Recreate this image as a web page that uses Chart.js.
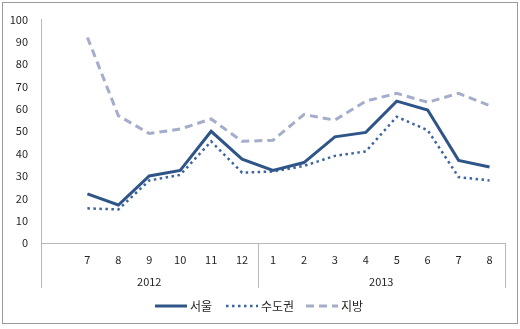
<!DOCTYPE html>
<html>
<head>
<meta charset="utf-8">
<script src="https://cdn.jsdelivr.net/npm/chart.js@4/dist/chart.umd.min.js"></script>
<style>
  html, body { margin: 0; padding: 0; background: #fff; }
  #wrap { position: relative; width: 520px; height: 329px; }
</style>
</head>
<body>
<div id="wrap"><canvas id="c" width="520" height="329"></canvas></div>
<script>
// Month labels; the first slot of 2012 is left blank.
const months = ['', '7', '8', '9', '10', '11', '12', '1', '2', '3', '4', '5', '6', '7', '8'];
// Year groups: label and how many month slots each covers.
const years = ['2012', '2013'];
const yearSpans = [7, 8];

const seoul    = [null, 22, 17, 30, 32.5, 50, 37.5, 32.5, 36, 47.5, 49.5, 63.5, 59.5, 37, 34];
const capital  = [null, 15.5, 15, 28, 30.5, 45.5, 31.5, 32, 34.5, 39, 41, 56.5, 50.5, 29.5, 28];
const regional = [null, 92, 57, 49, 51, 55.5, 45.5, 46, 57.5, 55, 63.5, 67, 63, 67, 61.5];

const seriesNames = ['서울', '수도권', '지방'];

const FONT = '"Noto Sans CJK KR", "Noto Sans", sans-serif';
const TEXT = '#262626';
const AXIS = '#b8b8b8';

// Group labels, separators, legend and frame drawn under the category axis.
const decor = {
  id: 'decor',
  afterDraw(chart) {
    const ctx = chart.ctx;
    const area = chart.chartArea;
    const step = (area.right - area.left) / months.length;
    ctx.save();
    // separators between year groups
    ctx.strokeStyle = AXIS;
    ctx.lineWidth = 1;
    let edge = area.left;
    const edges = [edge];
    yearSpans.forEach(n => { edge += n * step; edges.push(edge); });
    edges.forEach(px => {
      const p = Math.round(px) + 0.5;
      ctx.beginPath();
      ctx.moveTo(p, area.bottom);
      ctx.lineTo(p, area.bottom + 45);
      ctx.stroke();
    });
    // year labels
    ctx.fillStyle = TEXT;
    ctx.font = '11px ' + FONT;
    ctx.textAlign = 'center';
    ctx.textBaseline = 'middle';
    years.forEach((y, i) => {
      ctx.fillText(y, (edges[i] + edges[i + 1]) / 2, area.bottom + 39);
    });
    // legend
    const items = chart.data.datasets;
    const starts = [155, 226, 306];
    ctx.font = '12px ' + FONT;
    ctx.textAlign = 'left';
    items.forEach((ds, i) => {
      const lx = starts[i], ly = 306;
      ctx.strokeStyle = ds.borderColor;
      ctx.lineWidth = ds.borderWidth;
      ctx.setLineDash(ds.borderDash || []);
      ctx.beginPath();
      ctx.moveTo(lx, ly);
      ctx.lineTo(lx + 32, ly);
      ctx.stroke();
      ctx.setLineDash([]);
      ctx.fillStyle = TEXT;
      ctx.fillText(ds.label, lx + 35, ly);
    });
    // outer frame
    ctx.strokeStyle = '#9a9a9a';
    ctx.lineWidth = 1;
    ctx.strokeRect(2.5, 2.5, 515, 321);
    ctx.restore();
  }
};

new Chart(document.getElementById('c'), {
  type: 'line',
  data: {
    labels: months,
    datasets: [
      { label: seriesNames[0], data: seoul, borderColor: '#2f5588', borderWidth: 3,
        pointRadius: 0, tension: 0 },
      { label: seriesNames[1], data: capital, borderColor: '#3b64a0', borderWidth: 2.5,
        borderDash: [2.5, 3.5], pointRadius: 0, tension: 0 },
      { label: seriesNames[2], data: regional, borderColor: '#a4aecb', borderWidth: 3,
        borderDash: [8, 5], pointRadius: 0, tension: 0 }
    ]
  },
  options: {
    responsive: false,
    animation: false,
    layout: { padding: { top: 16, right: 15, left: 0, bottom: 0 } },
    plugins: { legend: { display: false }, tooltip: { enabled: false } },
    scales: {
      x: {
        type: 'category',
        offset: true,
        grid: { display: false, drawTicks: false },
        border: { display: true, color: AXIS, width: 1 },
        ticks: { color: TEXT, font: { family: FONT, size: 11 }, padding: 10, maxRotation: 0, autoSkip: false },
        afterFit(s) { s.height = 86; }
      },
      y: {
        min: 0, max: 100,
        grid: { display: false, drawTicks: false },
        border: { display: true, color: AXIS, width: 1 },
        ticks: { stepSize: 10, color: TEXT, font: { family: FONT, size: 11 }, padding: 13 },
        afterFit(s) { s.width = 41; }
      }
    }
  },
  plugins: [decor]
});
</script>
</body>
</html>
